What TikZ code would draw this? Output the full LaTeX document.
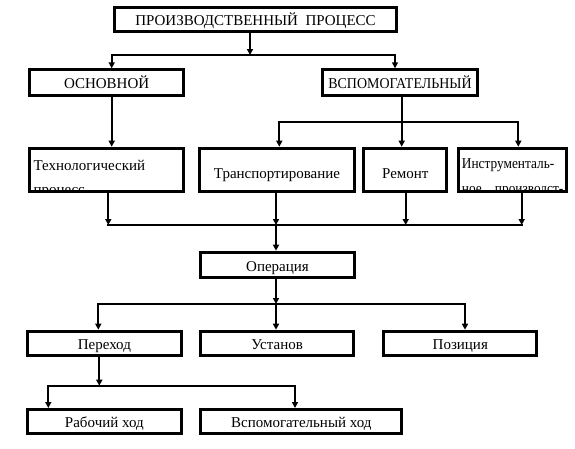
\documentclass[tikz,border=0pt]{standalone}
\usepackage{fontspec}
\setmainfont{Liberation Serif}
\usetikzlibrary{arrows.meta}

\begin{document}
\begin{tikzpicture}[x=1pt,y=-1pt,font=\fontsize{15}{18}\selectfont,
 box/.style={draw,rectangle,line width=3pt,inner sep=0pt,align=center,text height=13pt,text depth=1pt},
 tall/.style={box,minimum height=43.6pt,text height=18pt,text depth=1.4pt},
 lbl/.style={anchor=base west,inner sep=0pt},
 ln/.style={line width=1.8pt,line cap=rect},
 arr/.style={-{Triangle[length=6pt,width=6pt]},line width=1.8pt}]
\useasboundingbox (0,0) rectangle (575,448);
% boxes
\node[box,minimum width=281.4pt,minimum height=24.3pt] (proc) at (255.5,19.65) {ПРОИЗВОДСТВЕННЫЙ\ \ ПРОЦЕСС};
\node[box,minimum width=153.7pt,minimum height=26pt] (osn) at (106.65,82.8) {ОСНОВНОЙ};
\node[box,minimum width=155pt,minimum height=26pt] (vsp) at (400,82.8) {\scalebox{0.93}[1]{ВСПОМОГАТЕЛЬНЫЙ}};
\node[tall,minimum width=153.7pt] (tech) at (106.65,170) {};
\node[tall,minimum width=154.4pt] (trans) at (277,170) {Транспортирование};
\node[tall,minimum width=83pt] (rem) at (405.3,170) {Ремонт};
\node[tall,minimum width=108pt] (instr) at (512.2,170) {};
\node[box,minimum width=153.4pt,minimum height=25.6pt] (oper) at (277.5,265) {Операция};
\node[box,minimum width=153.7pt,minimum height=24.6pt] (per) at (104.35,343.5) {Переход};
\node[box,minimum width=152.7pt,minimum height=24.6pt] (ust) at (277.15,343.5) {Установ};
\node[box,minimum width=153pt,minimum height=24.6pt] (poz) at (460.3,343.5) {Позиция};
\node[box,minimum width=153.7pt,minimum height=24.3pt] (rab) at (104.35,421.65) {Рабочий ход};
\node[box,minimum width=201pt,minimum height=24.3pt] (vsph) at (301.3,421.65) {Вспомогательный ход};
% two-line texts cut off by their boxes
\begin{scope}
\clip ([xshift=3pt,yshift=3pt]tech.south west) rectangle ([xshift=-3pt,yshift=-3pt]tech.north east);
\node[lbl] (techtxt) at ([xshift=5pt,yshift=-23.3pt]tech.north west) {\parbox[t]{140pt}{\baselineskip=24pt Технологический\\процесс}};
\end{scope}
\begin{scope}
\clip ([xshift=3pt,yshift=3pt]instr.south west) rectangle ([xshift=-3pt,yshift=-3pt]instr.north east);
\node[lbl] (instrtxt) at ([xshift=5pt,yshift=-21.6pt]instr.north west) {\scalebox{0.89}[1]{\parbox[t]{125pt}{\baselineskip=25pt Инструменталь-\\\makebox[114pt][l]{ное\hfill производст-}}}};
\end{scope}
% junctions
\coordinate (j0) at (250,55);
\coordinate (ja) at (111.7,55);
\coordinate (jb) at (395,55);
\coordinate (jc) at (279.3,122.3);
\coordinate (jd) at (518.3,122.3);
\coordinate (je) at (401.7,122.3);
\coordinate (k1) at (108.3,225);
\coordinate (k2) at (276,225);
\coordinate (k3) at (405.7,225);
\coordinate (k4) at (521.7,225);
\coordinate (m1) at (98.3,304);
\coordinate (m2) at (276,304);
\coordinate (m3) at (465,304);
\coordinate (n0) at (99.3,385.7);
\coordinate (n1) at (48.3,385.7);
\coordinate (n2) at (295,385.7);
% connectors
\draw[arr] (j0 |- proc.south) -- (j0);
\draw[ln] (ja) -- (jb);
\draw[arr] (ja) -- (ja |- osn.north);
\draw[arr] (jb) -- (jb |- vsp.north);
\draw[arr] (ja |- osn.south) -- (ja |- tech.north);
\draw[ln] (je |- vsp.south) -- (je);
\draw[ln] (jc) -- (jd);
\draw[arr] (jc) -- (jc |- trans.north);
\draw[arr] (je) -- (je |- rem.north);
\draw[arr] (jd) -- (jd |- instr.north);
\draw[arr] (k1 |- tech.south) -- (k1);
\draw[arr] (k2 |- trans.south) -- (k2);
\draw[arr] (k3 |- rem.south) -- (k3);
\draw[arr] (k4 |- instr.south) -- (k4);
\draw[ln] (k1) -- (k4);
\draw[arr] (k2) -- (k2 |- oper.north);
\draw[arr] (m2 |- oper.south) -- (m2);
\draw[ln] (m1) -- (m3);
\draw[arr] (m1) -- (m1 |- per.north);
\draw[arr] (m2) -- (m2 |- ust.north);
\draw[arr] (m3) -- (m3 |- poz.north);
\draw[arr] (n0 |- per.south) -- (n0);
\draw[ln] (n1) -- (n2);
\draw[arr] (n1) -- (n1 |- rab.north);
\draw[arr] (n2) -- (n2 |- vsph.north);
\end{tikzpicture}
\end{document}
